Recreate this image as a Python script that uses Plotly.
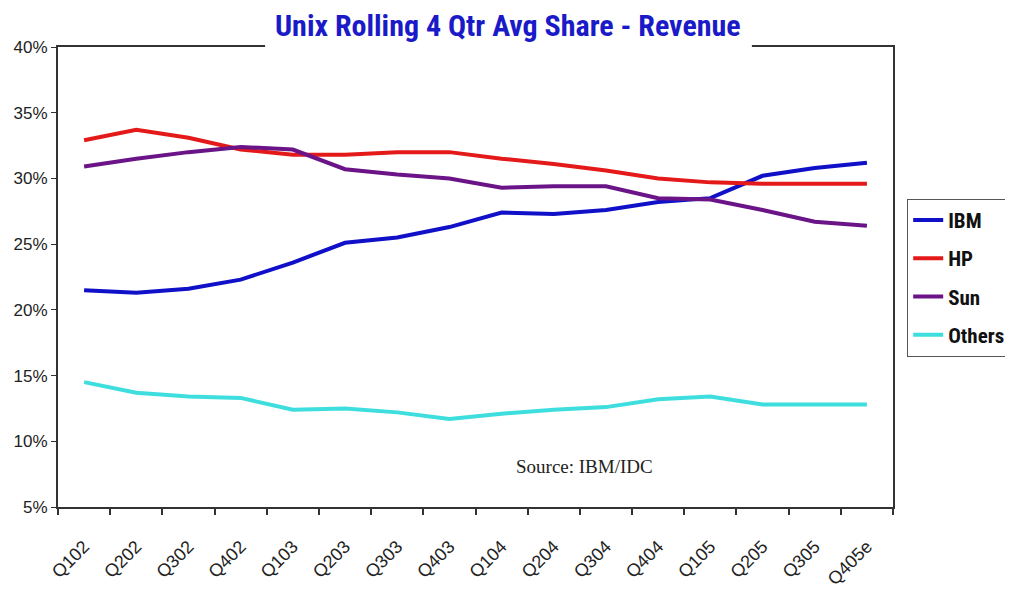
import plotly.graph_objects as go

quarters = ["Q102", "Q202", "Q302", "Q402", "Q103", "Q203", "Q303", "Q403",
            "Q104", "Q204", "Q304", "Q404", "Q105", "Q205", "Q305", "Q405e"]

ibm = [21.5, 21.3, 21.6, 22.3, 23.6, 25.1, 25.5, 26.3,
       27.4, 27.3, 27.6, 28.2, 28.5, 30.2, 30.8, 31.2]
hp = [32.9, 33.7, 33.1, 32.2, 31.8, 31.8, 32.0, 32.0,
      31.5, 31.1, 30.6, 30.0, 29.7, 29.6, 29.6, 29.6]
sun = [30.9, 31.5, 32.0, 32.4, 32.2, 30.7, 30.3, 30.0,
       29.3, 29.4, 29.4, 28.5, 28.4, 27.6, 26.7, 26.4]
others = [14.5, 13.7, 13.4, 13.3, 12.4, 12.5, 12.2, 11.7,
          12.1, 12.4, 12.6, 13.2, 13.4, 12.8, 12.8, 12.8]

series = [("IBM", ibm, "#1010c8"), ("HP", hp, "#e41a1a"),
          ("Sun", sun, "#6a1488"), ("Others", others, "#3fdede")]

NARROW = "Roboto Condensed, Liberation Sans Narrow, Arial Narrow, Arial, sans-serif"
ARIAL = "Liberation Sans, Arial, sans-serif"

fig = go.Figure()
for name, vals, color in series:
    fig.add_trace(go.Scatter(
        x=quarters, y=vals, name=name, mode="lines",
        line=dict(color=color, width=4),
        legendgroup=name,
    ))

# page body adds an 8px offset, margins are set against that
fig.update_layout(
    width=1013, height=592,
    paper_bgcolor="white", plot_bgcolor="white",
    margin=dict(l=50, r=128, t=39, b=93, autoexpand=False),
    showlegend=True,
    legend=dict(
        x=1.017, y=0.67, xanchor="left", yanchor="top",
        bordercolor="#555555", borderwidth=1, bgcolor="white",
        font=dict(family=NARROW, size=21, color="#111111", weight="bold"),
        tracegroupgap=8,
    ),
    xaxis=dict(
        type="category", range=[-0.5, 15.5],
        showline=True, mirror=True, linecolor="#333333", linewidth=2,
        ticks="outside", tickson="boundaries", ticklen=6, tickwidth=2, tickcolor="#333333",
        tickangle=-45, showgrid=False, ticklabelstandoff=20,
        tickfont=dict(family=ARIAL, size=18, color="#222222"),
    ),
    yaxis=dict(
        range=[5, 40], dtick=5, ticksuffix="%",
        showline=True, mirror=True, linecolor="#333333", linewidth=2,
        ticks="outside", ticklen=5, tickwidth=1, tickcolor="#333333",
        showgrid=False, zeroline=False,
        tickfont=dict(family=ARIAL, size=17, color="#222222"),
    ),
    # white strip breaks the top frame line behind the title
    shapes=[dict(type="rect", xref="paper", yref="paper", layer="above",
                 x0=0.248, x1=0.831, y0=0.99, y1=1.01,
                 fillcolor="white", line_width=0)],
    annotations=[
        dict(text="<b>Unix Rolling 4 Qtr Avg Share - Revenue</b>",
             xref="paper", yref="paper", x=0.5395, y=1.0457,
             xanchor="center", yanchor="middle", showarrow=False,
             font=dict(family=NARROW, size=30, color="#1a1ac8")),
        dict(text="Source: IBM/IDC", xref="paper", yref="paper",
             x=0.631, y=0.087, xanchor="center", yanchor="middle", showarrow=False,
             font=dict(family="Liberation Serif, Times New Roman, serif", size=19, color="#222222")),
    ],
)

fig.write_html("out.html")
